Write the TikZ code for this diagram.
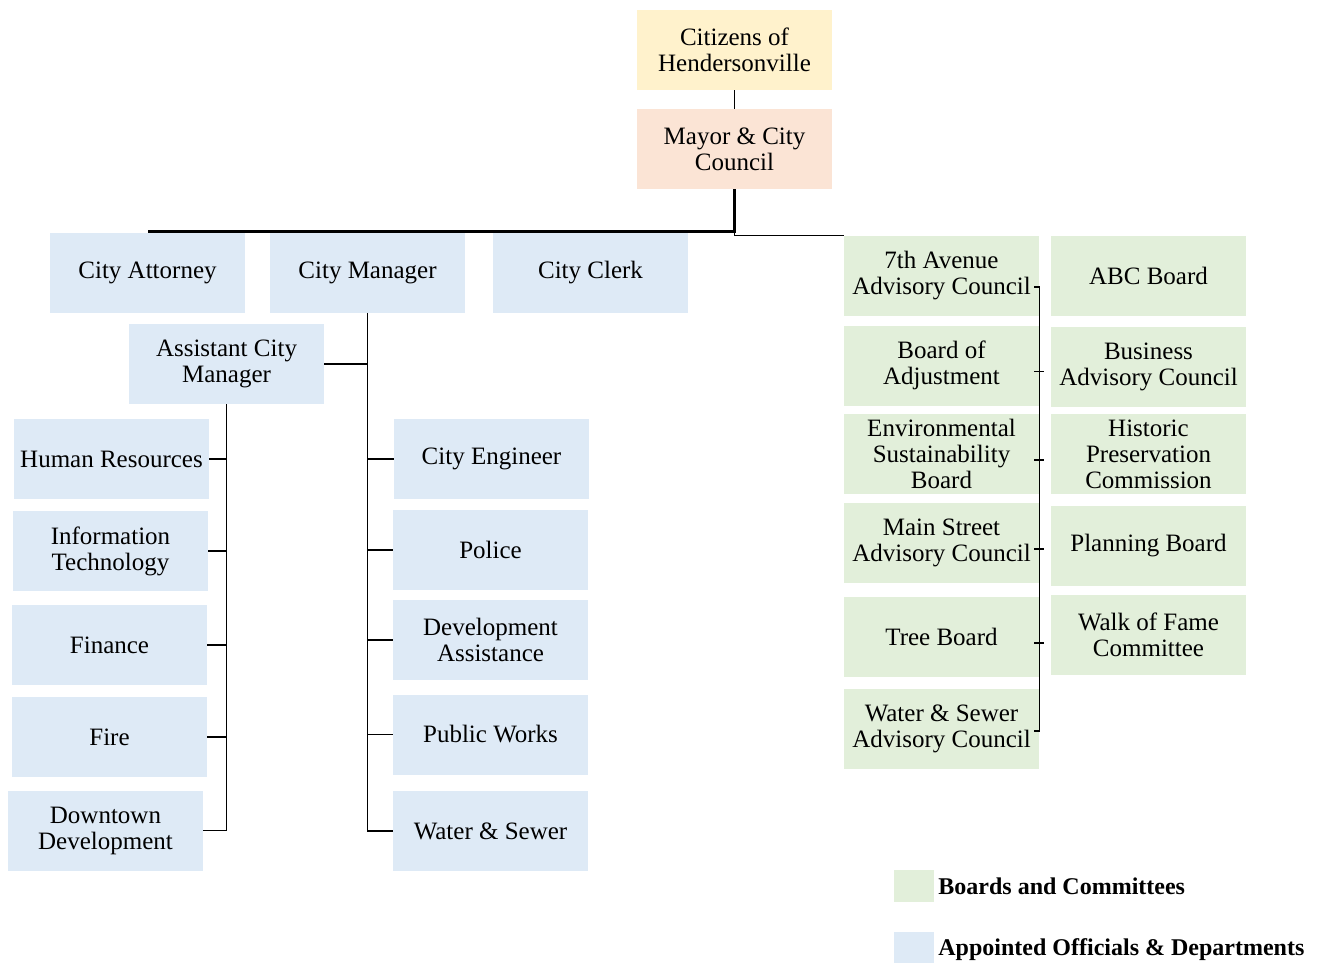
\documentclass[tikz,border=0pt]{standalone}
\usepackage{fontspec}
\setmainfont{Liberation Serif}

\definecolor{citizenfill}{HTML}{FFF2CC}
\definecolor{councilfill}{HTML}{FBE4D5}
\definecolor{officefill}{HTML}{DEEAF6}
\definecolor{boardfill}{HTML}{E2EFDA}

\begin{document}
\begin{tikzpicture}[x=0.5pt, y=-0.5pt,
    unit/.style={minimum width=97.5pt, minimum height=40pt, inner sep=1pt,
      align=center, font=\fontsize{12.5}{13}\selectfont},
    office/.style={unit, fill=officefill},
    board/.style={unit, fill=boardfill},
    link/.style={line width=0.9pt},
    thin link/.style={line width=0.6pt},
    swatch/.style={minimum width=20pt, minimum height=16pt, inner sep=0pt},
    legend text/.style={anchor=west, inner sep=0pt, font=\fontsize{12}{13}\selectfont\bfseries}]

  \useasboundingbox (0,0) rectangle (1322,963);

  % Top of the chart
  \node[unit, fill=citizenfill] (citizens) at (734.5,50) {Citizens of\\Hendersonville};
  \node[unit, fill=councilfill] (council) at (734.5,149) {Mayor \& City\\Council};

  % Appointed officials
  \node[office] (attorney) at (147.5,272.5) {City Attorney};
  \node[office] (manager) at (367.5,272.5) {City Manager};
  \node[office] (clerk) at (590.5,272.5) {City Clerk};
  \node[office] (assistant) at (226.5,364) {Assistant City\\Manager};

  % Departments under the assistant city manager
  \node[office] (hr) at (111.5,459) {Human Resources};
  \node[office] (it) at (110.5,551) {Information\\Technology};
  \node[office] (finance) at (109.5,645) {Finance};
  \node[office] (fire) at (109.5,737) {Fire};
  \node[office] (downtown) at (105.5,830.5) {Downtown\\Development};

  % Departments under the city manager
  \node[office] (engineer) at (491.5,459) {City Engineer};
  \node[office] (police) at (490.5,550) {Police};
  \node[office] (devassist) at (490.5,640) {Development\\Assistance};
  \node[office] (works) at (490.5,734.5) {Public Works};
  \node[office] (water) at (490.5,831) {Water \& Sewer};

  % Boards and committees, first column
  \node[board] (seventh) at (941.5,276) {7th Avenue\\Advisory Council};
  \node[board] (adjustment) at (941.5,365.5) {Board of\\Adjustment};
  \node[board] (environment) at (941.5,454) {Environmental\\Sustainability\\Board};
  \node[board] (mainstreet) at (941.5,543) {Main Street\\Advisory Council};
  \node[board] (tree) at (941.5,637) {Tree Board};
  \node[board] (wsac) at (941.5,729) {Water \& Sewer\\Advisory Council};

  % Boards and committees, second column
  \node[board] (abc) at (1148.5,276) {ABC Board};
  \node[board] (business) at (1148.5,367) {Business\\Advisory Council};
  \node[board] (historic) at (1148.5,454) {Historic\\Preservation\\Commission};
  \node[board] (planning) at (1148.5,546) {Planning Board};
  \node[board] (walk) at (1148.5,635) {Walk of Fame\\Committee};

  % Legend
  \node[swatch, fill=boardfill] (greenkey) at (914,886) {};
  \node[swatch, fill=officefill] (bluekey) at (914,948) {};
  \node[legend text] (greenlabel) at (938,886) {Boards and Committees};
  \node[legend text] (bluelabel) at (938,950) {Appointed Officials \& Departments};

  % Citizens to council
  \draw[thin link] (citizens) -- (council);

  % Council to the officials
  \draw[line width=1.2pt] (council.south) -- ++(0,42) coordinate (bus)
    -- (bus -| attorney.north);
  \draw[thin link] (council.south) -- (council.south |- seventh.north west)
    -- (seventh.north west);

  % City manager branch
  \draw[link] (manager.south) -- (manager.south |- water.west) -- (water.west);
  \draw[link] (assistant.east) -- (assistant.east -| manager.south);
  \foreach \d in {engineer, police, devassist, works}
    \draw[link] (\d.west) -- (\d.west -| manager.south);

  % Assistant city manager branch
  \draw[link] (assistant.south) -- (assistant.south |- downtown.east) -- (downtown.east);
  \foreach \d in {hr, it, finance, fire}
    \draw[link] (\d.east) -- (\d.east -| assistant.south);

  % Boards bracket
  \draw[thin link] ([xshift=-2.5pt, yshift=-5.5pt]seventh.east) -- ([yshift=-5.5pt]seventh.east)
    -- ([yshift=-1pt]wsac.east) -- ([xshift=-2.5pt, yshift=-1pt]wsac.east);
  \foreach \b in {adjustment, environment, mainstreet, tree}
    \draw[thin link] ([xshift=-2.5pt, yshift=-3pt]\b.east) -- ([xshift=2.5pt, yshift=-3pt]\b.east);

\end{tikzpicture}
\end{document}
